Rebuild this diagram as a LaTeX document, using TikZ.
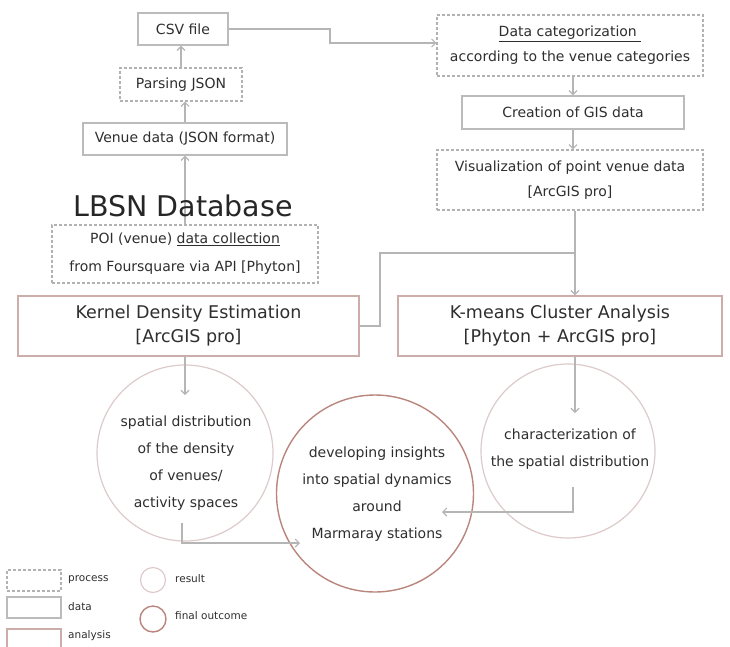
\documentclass[tikz,border=0pt]{standalone}
\usepackage{fontspec}
\setmainfont{DejaVu Sans}
\usetikzlibrary{arrows.meta,calc}
\definecolor{txt}{HTML}{2E2E2E}
\definecolor{procgray}{HTML}{B2B2B2}
\definecolor{datagray}{HTML}{BBBBBB}
\definecolor{anacol}{HTML}{CDADA9}
\definecolor{rescol}{HTML}{DDCACA}
\definecolor{fincol}{HTML}{B9857D}
\definecolor{arrcol}{HTML}{B5B5B5}
\begin{document}
\begin{tikzpicture}[x=1pt,y=-1pt,
  every node/.style={text=txt, font=\fontsize{14}{25}\selectfont, align=center, inner sep=0pt},
  procbox/.style={rectangle, draw=procgray, dash pattern=on 3pt off 2pt, line width=1.1pt},
  databox/.style={rectangle, draw=datagray, line width=1.2pt},
  anabox/.style={rectangle, draw=anacol, line width=1.4pt, font=\fontsize{17.5}{24}\selectfont},
  rescirc/.style={circle, draw=rescol, line width=1.2pt},
  fincirc/.style={circle, draw=fincol, line width=1.4pt},
  conn/.style={draw=arrcol, line width=1.2pt},
  arr/.style={conn, -{Straight Barb[length=4pt,width=8pt]}},
  lgd/.style={anchor=west, font=\fontsize{10.5}{12}\selectfont}
]
\useasboundingbox (0,0) rectangle (730,646);

% left column
\node[databox, minimum width=90, minimum height=32] (csv) at (183,29) {CSV file};
\node[procbox, minimum width=122, minimum height=33] (parse) at (181,84.5) {Parsing JSON};
\node[databox, minimum width=204, minimum height=32] (venue) at (185,139) {Venue data (JSON format)};
\node[procbox, minimum width=266, minimum height=58] (poi) at (185,254) {POI (venue) \underline{data collection}\\[3pt] from Foursquare via API [Phyton]};

% right column
\node[procbox, minimum width=266, minimum height=61] (cat) at (570,45.5) {\underline{Data categorization\ }\\ according to the venue categories};
\node[databox, minimum width=222, minimum height=33] (gis) at (573,112.5) {Creation of GIS data};
\node[procbox, minimum width=266, minimum height=60] (vis) at (570,180) {Visualization of point venue data\\ {[ArcGIS pro]}};

% analysis
\node[anabox, minimum width=341, minimum height=60] (kde) at (188.5,326) {Kernel Density Estimation\\ {[ArcGIS pro]}};
\node[anabox, minimum width=324, minimum height=60] (km) at (560,326) {K-means Cluster Analysis\\ {[Phyton + ArcGIS pro]}};

% results
\node[rescirc, minimum size=176] (c1) at (185,453) {};
\node[fincirc, minimum size=197] (c2) at (375,493.5) {};
\node[rescirc, minimum size=174] (c3) at (568,451) {};

% coordinates
\coordinate (b1) at (330,29);
\coordinate (b2) at (330,43);
\coordinate (vk) at (575,0);
\coordinate (j1) at (575,253);
\coordinate (j2) at (380,253);
\coordinate (t1) at (185,395);
\coordinate (t3) at (575,413);
\coordinate (s1) at (182,523);
\coordinate (e1) at (300,543);
\coordinate (s3) at (573,487);
\coordinate (e3) at (442,512);

% connectors
\draw[arr] (parse.north) -- (parse.north |- csv.south);
\draw[arr] (venue.north) -- (venue.north |- parse.south);
\draw[arr] (poi.north) -- (venue.south);
\draw[arr] (csv.east) -- (b1) -- (b2) -- (cat.west |- b2);
\draw[arr] (gis.north |- cat.south) -- (gis.north);
\draw[arr] (gis.south) -- (gis.south |- vis.north);
\draw[arr] (vis.south -| vk) -- (km.north -| vk);
\draw[conn] (j1) -- (j2) |- (kde.east);
\draw[arr] (kde.south -| t1) -- (t1);
\draw[arr] (km.south -| t3) -- (t3);
\draw[arr] (s1) |- (e1);
\draw[arr] (s3) |- (e3);

% texts drawn over lines
\node[font=\fontsize{28.5}{30}\selectfont, text=black!85] (lbsn) at (183,206) {LBSN Database};
\node (c1t) at (186,463) {spatial distribution\\[2pt] of the density\\[2pt] of venues/\\[2pt] activity spaces};
\node (c2t) at (377,494) {developing insights\\[2pt] into spatial dynamics\\[2pt] around\\[2pt] Marmaray stations};
\node (c3t) at (570,449) {characterization of\\[2pt] the spatial distribution};

% legend
\node[procbox, minimum width=54, minimum height=21] (lp) at (34,580.5) {};
\node[databox, minimum width=54, minimum height=21] (ld) at (34,607.5) {};
\node[anabox, minimum width=54, minimum height=21] (la) at (34,639.5) {};
\node[lgd] (lpt) at (68,580) {process};
\node[lgd] (ldt) at (68,607) {data};
\node[lgd] (lat) at (68,636) {analysis};
\node[rescirc, minimum size=25] (lr) at (153,580) {};
\node[fincirc, minimum size=26] (lf) at (153,619) {};
\node[lgd] (lrt) at (175,579) {result};
\node[lgd] (lft) at (175,616) {final outcome};
\end{tikzpicture}
\end{document}
